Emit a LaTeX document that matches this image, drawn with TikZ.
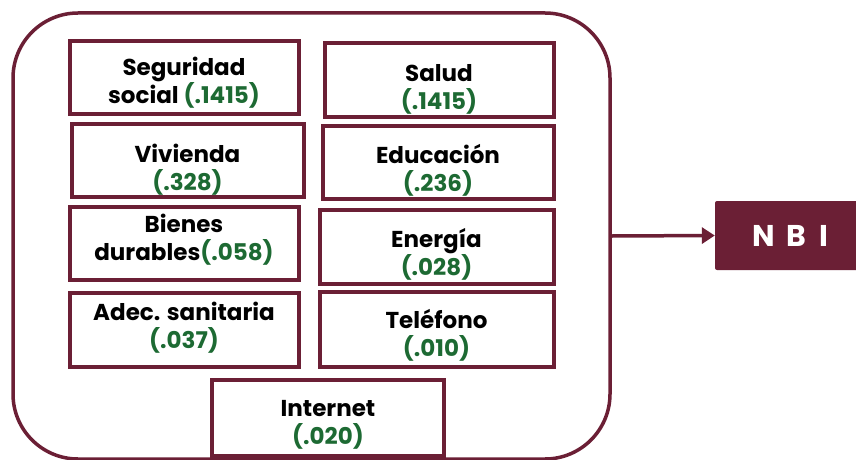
\documentclass[tikz,border=0pt]{standalone}
\usepackage{fontspec}
\setmainfont{Poppins}
\usetikzlibrary{arrows.meta}
\definecolor{maroon}{HTML}{6B1F35}
\definecolor{valgreen}{HTML}{1D6A33}
\tikzset{
  item/.style={draw=maroon, line width=4pt, inner sep=0pt},
  txt/.style={inner sep=0pt, align=center,
    font=\fontsize{23}{28}\selectfont\bfseries, text=black},
}
\newcommand{\vv}[1]{\textcolor{valgreen}{#1}}
\begin{document}
\begin{tikzpicture}[x=1pt,y=-1pt]
\useasboundingbox (0,0) rectangle (856,460);
\node[draw=maroon, line width=3.5pt, rounded corners=65pt, minimum width=597pt, minimum height=446pt, inner sep=0pt] (frame) at (311.5,236) {};
\node[item, minimum width=229pt, minimum height=72pt] (seg) at (184,77.5) {};
\node[item, minimum width=232pt, minimum height=73pt] (viv) at (187.5,160) {};
\node[item, minimum width=229pt, minimum height=73pt] (bie) at (184,243) {};
\node[item, minimum width=229pt, minimum height=74pt] (ade) at (184,329.5) {};
\node[item, minimum width=232pt, minimum height=76pt] (int) at (328,417.5) {};
\node[item, minimum width=229pt, minimum height=73pt] (sal) at (439,80) {};
\node[item, minimum width=231pt, minimum height=73pt] (edu) at (438,162) {};
\node[item, minimum width=234pt, minimum height=74pt] (ene) at (436.5,246.5) {};
\node[item, minimum width=234pt, minimum height=75pt] (tel) at (436.5,329) {};
\node[txt] (segT) at ([yshift=-5pt]seg.center) {Seguridad\\social \vv{(.1415)}};
\node[txt] (vivT) at ([yshift=-10pt]viv.center) {Vivienda\\\vv{(.328)}};
\node[txt] (bieT) at ([yshift=3pt]bie.center) {Bienes\\durables\vv{(.058)}};
\node[txt] (adeT) at ([yshift=2pt]ade.center) {Adec. sanitaria\\\vv{(.037)}};
\node[txt] (intT) at ([yshift=-7pt]int.center) {Internet\\\vv{(.020)}};
\node[txt] (salT) at ([yshift=-9pt]sal.center) {Salud\\\vv{(.1415)}};
\node[txt] (eduT) at ([yshift=-8pt]edu.center) {Educación\\\vv{(.236)}};
\node[txt] (eneT) at ([yshift=-7.5pt]ene.center) {Energía\\\vv{(.028)}};
\node[txt] (telT) at ([yshift=-6.5pt]tel.center) {Teléfono\\\vv{(.010)}};
\node[fill=maroon, rounded corners=2pt, minimum width=151pt, minimum height=69pt, inner sep=0pt,
  text=white, font=\fontsize{30}{30}\selectfont\bfseries] (nbi) at (790.5,235.5) {N\hspace{12pt}B\hspace{13pt}I};
\draw[maroon, line width=3.5pt, -{Triangle[length=13pt,width=16pt]}] (frame.east) -- (nbi.west);
\end{tikzpicture}
\end{document}
